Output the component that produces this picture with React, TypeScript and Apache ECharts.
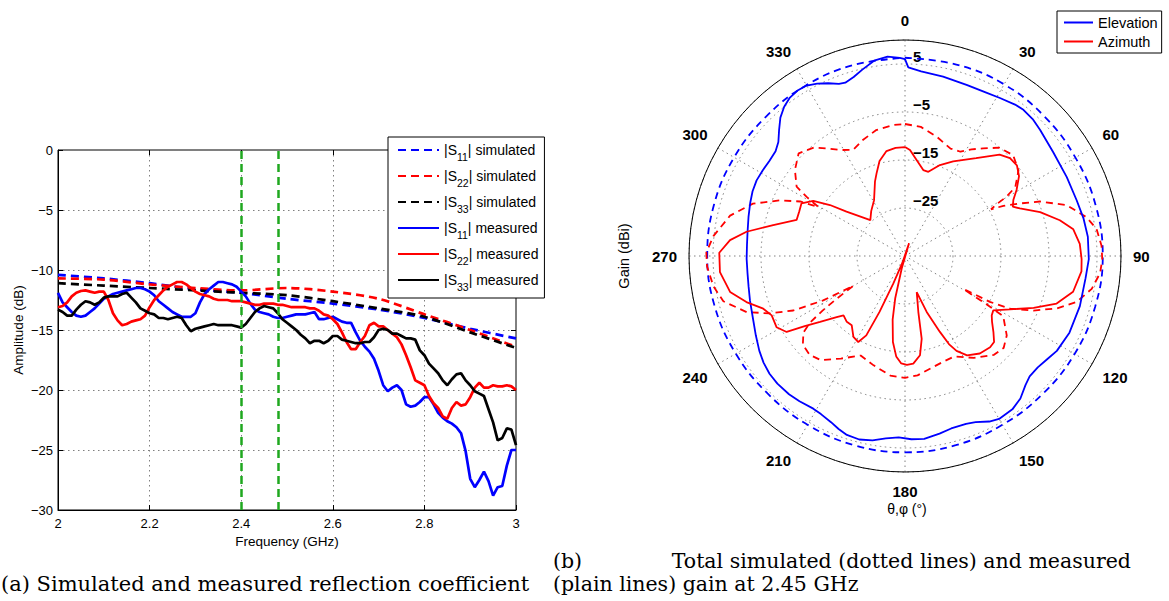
import React, { useEffect, useRef } from 'react';
import * as echarts from 'echarts';

const FONT = '"Liberation Sans", Arial, Helvetica, sans-serif';
const SERIF = '"DejaVu Serif", serif';

// ---------- (a) reflection coefficient ----------
const FREQ_SIM = [2.0, 2.1, 2.2, 2.3, 2.4, 2.5, 2.6, 2.7, 2.8, 2.9, 3.0];
const S11_SIM = [-10.4, -10.7, -11.1, -11.6, -11.9, -12.4, -12.8, -13.3, -14.0, -14.9, -15.7];
const S22_SIM = [-10.7, -10.8, -11.2, -11.5, -11.7, -11.5, -11.8, -12.4, -13.7, -15.0, -16.4];
const S33_SIM = [-11.1, -11.3, -11.5, -11.7, -11.9, -12.1, -12.6, -13.2, -13.9, -15.2, -16.5];

// measured sweep: 2.00 GHz to 3.00 GHz, 10 MHz step
const FREQ_MEAS = Array.from({ length: 101 }, (_, i) => Number((2 + i * 0.01).toFixed(2)));
const S11_MEAS = [
  -11.9, -12.7, -13.1, -13.5, -13.8, -13.9, -13.8, -13.5, -13.2, -12.8,
  -12.4, -12.2, -12.0, -11.9, -11.8, -11.7, -11.6, -11.5, -11.5, -11.6,
  -11.8, -12.1, -12.6, -12.9, -13.2, -13.5, -13.7, -13.9, -13.9, -13.9,
  -13.6, -12.7, -12.0, -11.6, -11.3, -11.0, -11.0, -11.1, -11.2, -11.4,
  -11.8, -12.2, -12.8, -13.3, -13.5, -13.6, -13.7, -13.9, -14.0, -14.0,
  -13.9, -13.8, -13.7, -13.7, -13.7, -13.6, -13.5, -14.1, -14.1, -14.0,
  -13.9, -14.1, -14.3, -14.4, -14.4, -15.2, -15.9, -16.4, -16.8, -17.4,
  -18.4, -19.6, -20.1, -19.8, -19.6, -20.0, -21.2, -21.4, -21.3, -21.0,
  -20.6, -20.6, -21.2, -21.9, -22.3, -22.6, -22.8, -23.1, -23.6, -25.1,
  -27.4, -28.1, -27.5, -26.8, -27.6, -28.8, -28.1, -28.0, -26.3, -25.0, -25.0,
];
const S22_MEAS = [
  -13.1, -13.0, -12.7, -12.2, -11.9, -11.75, -11.7, -11.8, -11.9, -11.8,
  -11.8, -12.5, -13.6, -14.2, -14.6, -14.5, -14.3, -14.2, -14.1, -13.8,
  -13.1, -12.5, -12.1, -11.7, -11.4, -11.2, -11.0, -11.0, -11.2, -11.5,
  -11.8, -12.0, -12.1, -12.2, -12.4, -12.5, -12.5, -12.5, -12.6, -12.6,
  -12.6, -12.7, -12.8, -12.9, -12.9, -12.8, -12.8, -12.8, -12.9, -12.9,
  -13.0, -13.1, -13.1, -13.1, -13.1, -13.2, -13.2, -13.4, -13.7, -13.8,
  -14.1, -14.5, -15.2, -16.0, -16.6, -16.6, -16.0, -15.5, -14.6, -14.4,
  -14.7, -14.7, -15.0, -15.3, -15.6, -16.2, -17.1, -18.1, -19.2, -19.4,
  -19.6, -20.5, -21.1, -21.5, -22.2, -22.4, -21.5, -21.0, -21.3, -21.2,
  -20.6, -19.8, -19.4, -19.8, -19.8, -19.6, -19.7, -19.7, -19.6, -19.7, -20.0,
];
const S33_MEAS = [
  -13.3, -13.5, -13.8, -13.8, -13.3, -12.9, -12.6, -12.7, -12.9, -12.7,
  -12.3, -12.2, -12.2, -12.2, -12.0, -11.9, -12.3, -12.7, -13.2, -13.4,
  -13.6, -13.7, -14.0, -14.0, -14.1, -14.0, -13.9, -14.0, -14.6, -15.1,
  -14.9, -14.8, -14.7, -14.6, -14.5, -14.6, -14.6, -14.6, -14.6, -14.7,
  -14.8, -14.5, -14.0, -13.5, -13.2, -13.0, -13.1, -13.2, -13.6, -14.1,
  -14.4, -14.7, -15.0, -15.4, -15.7, -16.1, -15.9, -15.9, -16.1, -15.9,
  -15.5, -15.5, -15.8, -15.9, -16.0, -16.1, -16.1, -16.0, -16.0, -15.6,
  -15.0, -14.9, -15.0, -15.3, -15.3, -15.5, -15.7, -15.7, -15.8, -16.7,
  -17.1, -17.8, -18.2, -18.6, -19.2, -19.6, -19.1, -18.7, -18.6, -19.2,
  -19.6, -20.1, -20.3, -20.5, -21.6, -22.7, -24.2, -24.0, -23.2, -23.3, -24.6,
];
const ISM_BAND = [2.4, 2.4835];

// ---------- (b) gain patterns at 2.45 GHz (angle in degrees, gain in dBi) ----------
const ELEV_SIM_ANGLE = [0, 15, 30, 45, 60, 75, 90, 105, 120, 135, 150, 165, 180, 195, 210, 225, 240, 255, 270, 285, 300, 315, 330, 345, 360];
const ELEV_SIM_GAIN = [6.3, 6.3, 6.3, 6.1, 6.0, 6.1, 6.2, 6.0, 5.8, 5.6, 5.6, 5.8, 5.9, 5.8, 5.6, 5.5, 5.7, 6.0, 6.2, 6.2, 6.1, 6.0, 6.1, 6.2, 6.3];

const ELEV_MEAS_ANGLE = [
  0, 1, 5, 12, 20, 26, 31, 36, 39, 43, 47, 55, 64, 72, 78, 84, 91, 97, 106, 115,
  122, 126, 130, 134, 137, 141, 145, 150, 153, 157, 160, 165, 169, 174, 178, 182, 186, 190, 194, 198,
  201, 204, 208, 211, 216, 220, 225, 229, 233, 237, 242, 248, 254, 259, 264, 269, 274, 279, 284, 289,
  293, 297, 301, 305, 309, 312, 315, 318, 321, 324, 327, 330, 333, 336, 339, 341, 344, 347, 351, 355, 358.5, 360,
];
const ELEV_MEAS_GAIN = [
  6.0, 4.3, 3.6, 3.2, 2.9, 3.0, 3.4, 4.0, 4.2, 4.0, 3.5, 2.7, 2.5, 2.6, 3.0, 3.3, 3.3, 2.9, 2.9, 2.8,
  2.3, 1.6, 1.1, 1.1, 1.8, 3.2, 4.0, 4.2, 3.7, 2.6, 2.2, 2.2, 2.7, 3.3, 3.2, 2.8, 3.2, 4.0, 4.4, 4.2,
  3.6, 2.9, 2.3, 2.1, 2.4, 2.6, 2.6, 2.4, 1.9, 1.2, 0.2, -0.8, -1.4, -1.8, -2.0, -2.0, -2.0, -1.8, -1.4, -0.9,
  -0.5, -0.3, -0.4, -0.5, -0.3, 0.5, 2.1, 3.8, 5.0, 5.8, 6.1, 6.0, 5.3, 4.4, 3.4, 3.2, 3.8, 4.8, 6.2, 6.7, 6.3, 6.0,
];

const AZ_SIM_ANGLE = [
  0, 7, 15, 23, 28, 32, 36, 41, 47, 53, 58, 59.7, 60.5, 61.5, 63, 65.4, 68, 72.5, 78, 82,
  87, 91, 95, 100, 105, 109, 113, 116.6, 118.4, 118.8, 119.5, 120.5, 121.5, 128, 133, 138, 146, 154, 160, 166,
  174, 180, 187, 196, 204, 212, 219, 224, 229, 233, 235, 236.5, 238, 240, 241.5, 244, 247, 250.5, 256, 261,
  267, 271, 276, 283, 289, 294, 297.5, 299.5, 301, 302.6, 308, 314, 320, 324, 328.5, 334, 340, 347, 355, 360,
];
const AZ_SIM_GAIN = [
  -7.5, -7.9, -9.3, -10.7, -10.4, -8.8, -7.3, -5.1, -4.2, -5.4, -7.9, -10.5, -13.0, -14.6, -12.0, -8.7, -4.7, 0.3, 3.7, 5.3,
  6.0, 6.1, 5.8, 4.5, 2.0, -1.5, -5.9, -10.5, -14.9, -18.0, -21.0, -16.0, -11.0, -8.1, -6.9, -7.3, -9.4, -11.7, -11.6, -11.1,
  -10.0, -9.6, -9.9, -11.3, -12.3, -9.8, -7.1, -6.4, -6.8, -8.5, -10.9, -14.4, -18.2, -22.6, -15.6, -9.1, -4.4, 0.0, 4.0, 5.4,
  6.3, 6.4, 5.1, 2.4, -1.5, -6.5, -10.4, -14.3, -11.1, -8.2, -5.9, -4.2, -5.5, -7.3, -9.1, -10.4, -9.3, -8.1, -7.6, -7.5,
];

const AZ_MEAS_ANGLE = [
  0, 2.7, 7, 12, 15.5, 21, 27, 36, 43, 47, 51, 55, 59.4, 62.7, 65.4, 67.5, 72, 77, 81, 86,
  91, 95, 102, 107.4, 112, 117, 121.6, 124.4, 127, 130.7, 134, 137, 142.5, 148, 151.5, 153.5, 155.3, 158.8, 162, 166.6,
  168.6, 171.4, 175.6, 179, 182, 185, 188, 191, 193, 194.7, 197.5, 201, 203, 204.5, 206, 208.5, 212.5, 217.6, 221.5, 226,
  228.2, 232.2, 235, 237.3, 241, 246, 249.6, 253.8, 258.4, 265, 271, 275.2, 278.7, 283.2, 288.4, 292.8, 297, 301, 304.2, 307.2,
  316, 323, 331, 338, 341, 345, 350, 355, 360,
];
const AZ_MEAS_GAIN = [
  -12.3, -12.9, -14.9, -16.7, -16.8, -14.7, -12.9, -9.8, -6.1, -5.1, -5.0, -6.0, -8.0, -9.6, -10.3, -9.1, -5.4, -1.9, 0.5, 1.5,
  1.8, 1.9, 0.8, -1.9, -6.1, -10.5, -13.4, -13.1, -12.3, -10.7, -9.2, -9.0, -9.4, -10.6, -12.5, -14.5, -17.6, -22.5, -27.1, -23.0,
  -17.4, -14.1, -12.5, -12.3, -12.6, -14.0, -16.9, -21.5, -25.9, -32.3, -37.8, -33.5, -28.8, -22.2, -16.6, -14.6, -15.0, -16.8, -16.7, -17.2,
  -15.9, -12.6, -9.5, -5.7, -4.4, -4.6, -3.5, -0.6, 2.2, 3.7, 3.7, 1.6, -1.6, -6.8, -11.2, -11.1, -10.8, -12.7, -16.1, -19.7,
  -24.6, -23.3, -21.7, -18.3, -16.8, -14.5, -12.8, -12.4, -12.3,
];

const LEFT_NAMES = ['|S11| simulated', '|S22| simulated', '|S33| simulated', '|S11| measured', '|S22| measured', '|S33| measured'];
const RIGHT_NAMES = ['Elevation', 'Azimuth'];

const BLUE = '#0000ff';
const RED = '#ff0000';
const BLACK = '#000000';
const GREEN = '#1fa81f';
const GRID_GRAY = '#808080';

const minus = (v: number) => String(v).replace('-', '\u2212');
const xy = (xs: number[], ys: number[]) => xs.map((x, i) => [x, ys[i]]);
const pol = (angles: number[], gains: number[]) => angles.map((a, i) => [gains[i], a]);

function cartLine(name: string, xs: number[], ys: number[], color: string, dashed: boolean, z: number) {
  return {
    name,
    type: 'line',
    xAxisIndex: 0,
    yAxisIndex: 0,
    data: xy(xs, ys),
    symbol: 'none',
    showSymbol: false,
    smooth: dashed ? 0.3 : false,
    color,
    itemStyle: { color },
    lineStyle: { color, width: 2.7, type: dashed ? [8, 5] : 'solid' },
    z,
  };
}

function polLine(name: string, angles: number[], gains: number[], color: string, dashed: boolean, smooth: any) {
  return {
    name,
    type: 'line',
    coordinateSystem: 'polar',
    polarIndex: 0,
    data: pol(angles, gains),
    symbol: 'none',
    showSymbol: false,
    smooth,
    color,
    itemStyle: { color },
    lineStyle: { color, width: 1.8, type: dashed ? [7, 5] : 'solid' },
    z: 3,
  };
}

function legendRich(name: string) {
  const m = name.match(/^\|S(\d\d)\| (.*)$/);
  if (!m) return name;
  return `{m||S}{sub|${m[1]}}{m|| ${m[2]}}`;
}

export default function App() {
  const ref = useRef<HTMLDivElement>(null);

  useEffect(() => {
    document.body.style.margin = '0';
    const chart = echarts.init(ref.current as HTMLDivElement, undefined, { renderer: 'svg' });

    const axisText = { color: '#000', fontFamily: FONT, fontSize: 13 };
    const captionStyle = (text: string, size: number, align: string) => ({
      text,
      fill: '#000',
      font: `${size}px ${SERIF}`,
      align,
      verticalAlign: 'middle',
      textAlign: align,
      textVerticalAlign: 'middle',
    });

    const option: any = {
      animation: false,
      backgroundColor: '#ffffff',
      textStyle: { fontFamily: FONT, color: '#000' },
      grid: [
        {
          left: 58,
          top: 150,
          width: 458,
          height: 360,
          show: true,
          borderColor: '#000',
          borderWidth: 1,
          backgroundColor: 'transparent',
          containLabel: false,
          outerBoundsMode: 'none',
        },
      ],
      xAxis: [
        {
          gridIndex: 0,
          type: 'value',
          position: 'bottom',
          min: 2,
          max: 3,
          interval: 0.2,
          name: 'Frequency (GHz)',
          nameLocation: 'middle',
          nameGap: 21,
          nameTextStyle: { ...axisText, fontSize: 13.5 },
          axisLine: { show: true, onZero: false, lineStyle: { color: '#000', width: 1 } },
          axisTick: { show: true, inside: true, length: 5, lineStyle: { color: '#000' } },
          axisLabel: { ...axisText, margin: 7, formatter: (v: number) => String(Number(v.toFixed(1))) },
          splitLine: { show: true, lineStyle: { color: GRID_GRAY, type: [1.5, 3.5], width: 1 } },
        },
        {
          gridIndex: 0,
          type: 'value',
          position: 'top',
          min: 2,
          max: 3,
          interval: 0.2,
          axisLine: { show: false },
          axisTick: { show: true, inside: true, length: 5, lineStyle: { color: '#000' } },
          axisLabel: { show: false },
          splitLine: { show: false },
        },
      ],
      yAxis: [
        {
          gridIndex: 0,
          type: 'value',
          position: 'left',
          min: -30,
          max: 0,
          interval: 5,
          name: 'Amplitude (dB)',
          nameLocation: 'middle',
          nameGap: 33,
          nameTextStyle: { ...axisText, fontSize: 13.5 },
          axisLine: { show: true, onZero: false, lineStyle: { color: '#000', width: 1 } },
          axisTick: { show: true, inside: true, length: 5, lineStyle: { color: '#000' } },
          axisLabel: { ...axisText, margin: 5, formatter: (v: number) => minus(v) },
          splitLine: { show: true, lineStyle: { color: GRID_GRAY, type: [1.5, 3.5], width: 1 } },
        },
        {
          gridIndex: 0,
          type: 'value',
          position: 'right',
          min: -30,
          max: 0,
          interval: 5,
          axisLine: { show: false },
          axisTick: { show: true, inside: true, length: 5, lineStyle: { color: '#000' } },
          axisLabel: { show: false },
          splitLine: { show: false },
        },
      ],
      polar: [{ center: [905, 256], radius: [0, 216] }],
      angleAxis: [
        {
          polarIndex: 0,
          type: 'value',
          min: 0,
          max: 360,
          interval: 30,
          startAngle: 90,
          clockwise: true,
          axisLine: { show: true, lineStyle: { color: '#000', width: 1 } },
          axisTick: { show: false },
          axisLabel: {
            show: true,
            color: '#000',
            fontFamily: FONT,
            fontSize: 15,
            fontWeight: 'bold',
            margin: 12,
            formatter: (v: number) => (v === 360 ? '' : String(v)),
          },
          splitLine: { show: true, lineStyle: { color: GRID_GRAY, type: [1.5, 3.5], width: 1 } },
        },
      ],
      radiusAxis: [
        {
          polarIndex: 0,
          type: 'value',
          min: -35,
          max: 10,
          interval: 10,
          axisLine: { show: false },
          axisTick: { show: false },
          axisLabel: {
            show: true,
            showMinLabel: false,
            showMaxLabel: false,
            color: '#000',
            fontFamily: FONT,
            fontSize: 15,
            fontWeight: 'bold',
            margin: -8,
            align: 'left',
            verticalAlign: 'bottom',
            formatter: (v: number) => (v <= -35 || v >= 10 ? '' : minus(v)),
          },
          splitLine: { show: true, lineStyle: { color: GRID_GRAY, type: [1.5, 3.5], width: 1 } },
        },
      ],
      legend: [
        {
          data: LEFT_NAMES,
          orient: 'vertical',
          left: 388,
          top: 137,
          itemWidth: 41,
          itemHeight: 12,
          itemGap: 7,
          itemStyle: { opacity: 0 },
          backgroundColor: '#ffffff',
          borderColor: '#000',
          borderWidth: 1,
          borderRadius: 0,
          padding: [6, 6, 6, 9],
          selectedMode: false,
          formatter: legendRich,
          textStyle: {
            color: '#000',
            fontFamily: FONT,
            fontSize: 14,
            rich: {
              m: { fontFamily: FONT, fontSize: 14, color: '#000', lineHeight: 24 },
              sub: { fontFamily: FONT, fontSize: 10.5, color: '#000', lineHeight: 10, verticalAlign: 'bottom' },
            },
          },
        },
        {
          data: RIGHT_NAMES,
          orient: 'vertical',
          left: 1057,
          top: 11,
          itemWidth: 29,
          itemHeight: 12,
          itemGap: 4,
          itemStyle: { opacity: 0 },
          backgroundColor: '#ffffff',
          borderColor: '#000',
          borderWidth: 1,
          borderRadius: 0,
          padding: [4, 4, 4, 6],
          selectedMode: false,
          textStyle: { color: '#000', fontFamily: FONT, fontSize: 14.5 },
        },
      ],
      series: [
        cartLine(LEFT_NAMES[0], FREQ_SIM, S11_SIM, BLUE, true, 2),
        cartLine(LEFT_NAMES[1], FREQ_SIM, S22_SIM, RED, true, 2),
        cartLine(LEFT_NAMES[2], FREQ_SIM, S33_SIM, BLACK, true, 2),
        cartLine(LEFT_NAMES[3], FREQ_MEAS, S11_MEAS, BLUE, false, 3),
        cartLine(LEFT_NAMES[4], FREQ_MEAS, S22_MEAS, RED, false, 3),
        cartLine(LEFT_NAMES[5], FREQ_MEAS, S33_MEAS, BLACK, false, 3),
        {
          name: 'ISM band',
          type: 'line',
          xAxisIndex: 0,
          yAxisIndex: 0,
          data: [],
          z: 5,
          markLine: {
            silent: true,
            symbol: 'none',
            animation: false,
            label: { show: false },
            lineStyle: { color: GREEN, width: 2.5, type: [8, 5] },
            data: ISM_BAND.map((f) => ({ xAxis: f })),
          },
        },
        polLine('Elevation (simulated)', ELEV_SIM_ANGLE, ELEV_SIM_GAIN, BLUE, true, 0.4),
        polLine('Azimuth (simulated)', AZ_SIM_ANGLE, AZ_SIM_GAIN, RED, true, false),
        polLine(RIGHT_NAMES[0], ELEV_MEAS_ANGLE, ELEV_MEAS_GAIN, BLUE, false, false),
        polLine(RIGHT_NAMES[1], AZ_MEAS_ANGLE, AZ_MEAS_GAIN, RED, false, false),
      ],
      graphic: [
        {
          type: 'text',
          x: 624,
          y: 256,
          rotation: Math.PI / 2,
          style: { text: 'Gain (dBi)', fill: '#000', font: `14.5px ${FONT}`, align: 'center', verticalAlign: 'middle', textAlign: 'center', textVerticalAlign: 'middle' },
        },
        {
          type: 'text',
          x: 907,
          y: 509,
          style: { text: '\u03b8,\u03c6 (\u00b0)', fill: '#000', font: `14px ${FONT}`, align: 'center', verticalAlign: 'middle', textAlign: 'center', textVerticalAlign: 'middle' },
        },
        { type: 'text', x: 1, y: 584, style: captionStyle('(a) Simulated and measured reflection coefficient', 21, 'left') },
        { type: 'text', x: 553, y: 561, style: captionStyle('(b)', 20.5, 'left') },
        { type: 'text', x: 1131, y: 561, style: captionStyle('Total simulated (dotted lines) and measured', 20.5, 'right') },
        { type: 'text', x: 553, y: 584, style: captionStyle('(plain lines) gain at 2.45 GHz', 20.5, 'left') },
      ],
    };

    chart.setOption(option);
    return () => chart.dispose();
  }, []);

  return <div ref={ref} style={{ width: 1169, height: 601 }} />;
}
